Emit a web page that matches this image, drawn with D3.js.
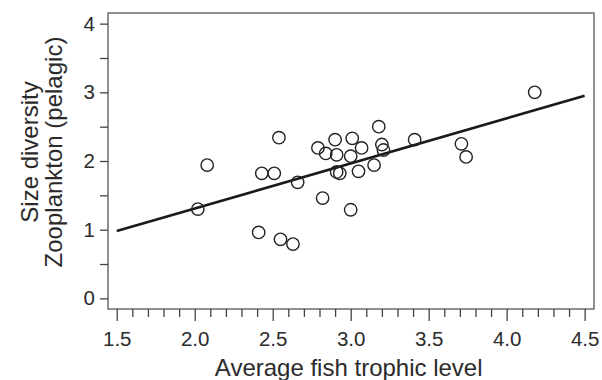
<!DOCTYPE html>
<html>
<head>
<meta charset="utf-8">
<script src="https://cdn.jsdelivr.net/npm/d3@7"></script>
<style>
  html, body { margin: 0; padding: 0; background: #fff; }
  svg { display: block; }
  text { font-family: "Liberation Sans", Arial, sans-serif; fill: #2b2b2b; }
</style>
</head>
<body>
<svg id="chart" width="602" height="380"></svg>
<script>
// Average fish trophic level vs. zooplankton size diversity (pelagic)
const trophicLevel = [2.02, 2.08, 2.41, 2.43, 2.51, 2.54, 2.55, 2.63, 2.66, 2.79,
                      2.82, 2.84, 2.90, 2.91, 2.91, 2.93, 3.00, 3.00, 3.01, 3.05,
                      3.07, 3.15, 3.18, 3.20, 3.21, 3.41, 3.71, 3.74, 4.18];
const sizeDiversity = [1.30, 1.94, 0.96, 1.82, 1.82, 2.34, 0.86, 0.79, 1.69, 2.19,
                       1.46, 2.11, 2.31, 2.09, 1.84, 1.82, 1.29, 2.07, 2.33, 1.85,
                       2.19, 1.94, 2.50, 2.24, 2.16, 2.31, 2.25, 2.06, 3.00];
// Fitted regression line end points
const fitX = [1.5, 4.5];
const fitY = [0.98, 2.95];

const xMajorTicks = [1.5, 2.0, 2.5, 3.0, 3.5, 4.0, 4.5];
const xMinorTicks = d3.range(15, 46).map(v => v / 10);
const yMajorTicks = [0, 1, 2, 3, 4];
const yAllTicks = [0, 0.5, 1, 1.5, 2, 2.5, 3, 3.5, 4];

const xTitle = "Average fish trophic level";
const yTitleLines = ["Size diversity", "Zooplankton (pelagic)"];

const svg = d3.select("#chart");
const plotLeft = 108, plotRight = 594, plotTop = 13, plotBottom = 309;

const x = d3.scaleLinear().domain([1.444, 4.56]).range([plotLeft, plotRight]);
const y = d3.scaleLinear().domain([-0.155, 4.155]).range([plotBottom, plotTop]);

const axisColor = "#444";
const tickFont = "20.5px";
const titleFont = "24px";

// Plot frame
svg.append("rect")
  .attr("x", plotLeft).attr("y", plotTop)
  .attr("width", plotRight - plotLeft).attr("height", plotBottom - plotTop)
  .attr("fill", "none").attr("stroke", "#555").attr("stroke-width", 1.3);

// Bottom axis: minor ticks every 0.1, longer ticks every 0.5
const gx = svg.append("g").attr("transform", `translate(0,${plotBottom})`);
gx.call(d3.axisBottom(x).tickValues(xMinorTicks).tickSize(8).tickFormat(""));
gx.selectAll(".tick line")
  .filter(d => xMajorTicks.some(m => Math.abs(m - d) < 1e-6))
  .attr("y2", 12);
gx.select(".domain").remove();
gx.selectAll(".tick line").attr("stroke", axisColor).attr("stroke-width", 1.3);

const gxl = svg.append("g").attr("transform", `translate(0,${plotBottom})`);
gxl.call(d3.axisBottom(x).tickValues(xMajorTicks).tickSize(0).tickPadding(22).tickFormat(d3.format(".1f")));
gxl.attr("font-size", tickFont).attr("font-family", "Liberation Sans, Arial, sans-serif");
gxl.select(".domain").remove();
gxl.selectAll("text").attr("fill", "#2b2b2b");

// Left axis
const gy = svg.append("g").attr("transform", `translate(${plotLeft},0)`);
gy.call(d3.axisLeft(y).tickValues(yAllTicks).tickSize(8)
  .tickFormat(d => yMajorTicks.includes(d) ? d3.format("d")(d) : ""));
gy.attr("font-size", tickFont).attr("font-family", "Liberation Sans, Arial, sans-serif");
gy.select(".domain").remove();
gy.selectAll(".tick line").attr("stroke", axisColor).attr("stroke-width", 1.3);
gy.selectAll("text").attr("x", -13).attr("fill", "#2b2b2b");

// Axis titles
svg.append("text")
  .attr("x", (x(1.5) + x(4.5)) / 2 - 2).attr("y", 376)
  .attr("text-anchor", "middle").attr("font-size", titleFont)
  .text(xTitle);

const yTitle = svg.append("text")
  .attr("transform", `translate(38,${(plotTop + plotBottom) / 2 - 9}) rotate(-90)`)
  .attr("text-anchor", "middle").attr("font-size", titleFont);
yTitleLines.forEach((line, i) => {
  yTitle.append("tspan").attr("x", 0).attr("dy", i === 0 ? 0 : 24).text(line);
});

// Regression line
svg.append("line")
  .attr("x1", x(fitX[0])).attr("y1", y(fitY[0]))
  .attr("x2", x(fitX[1])).attr("y2", y(fitY[1]))
  .attr("stroke", "#1a1a1a").attr("stroke-width", 2.6);

// Observations
svg.append("g").selectAll("circle")
  .data(trophicLevel.map((t, i) => [t, sizeDiversity[i]]))
  .join("circle")
  .attr("cx", d => x(d[0])).attr("cy", d => y(d[1]))
  .attr("r", 6.2)
  .attr("fill", "none").attr("stroke", "#222").attr("stroke-width", 1.4);
</script>
</body>
</html>
